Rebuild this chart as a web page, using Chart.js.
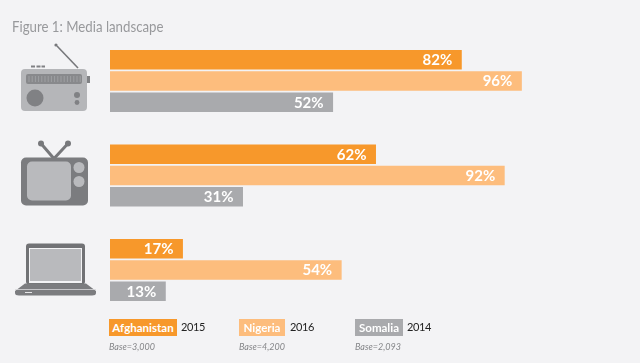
<!DOCTYPE html>
<html>
<head>
  <title>Figure 1: Media landscape</title>
  <script src="https://cdn.jsdelivr.net/npm/chart.js"></script>
  <style>
    html, body { margin: 0; padding: 0; background: #f3f3f5; }
    #wrap { position: relative; width: 640px; height: 363px; overflow: hidden; font-family: Lato, sans-serif; }
    #mediaChart { position: absolute; left: 0; top: 0; }
    .title { position: absolute; left: 12px; top: 17px; font-size: 15px; color: #98999c; white-space: nowrap; transform: scaleX(0.883); transform-origin: left top; }
    .key { position: absolute; top: 319px; height: 17px; line-height: 17px; text-align: center; color: #fff; font-size: 11.5px; font-weight: 700; white-space: nowrap; }
    .year { position: absolute; top: 318px; height: 17px; line-height: 17px; color: #222; font-size: 11px; letter-spacing: -0.4px; white-space: nowrap; }
    .base { position: absolute; top: 341px; font-size: 9px; line-height: 12px; font-style: italic; color: #858689; white-space: nowrap; }
  </style>
</head>
<body>
  <div id="wrap">
    <canvas id="mediaChart" width="640" height="363"></canvas>
    <div class="title">Figure 1: Media landscape</div>
    <div id="legend"></div>
  </div>
  <script>
    const categories = ["Radio", "TV", "Laptop"];
    const countries = ["Afghanistan", "Nigeria", "Somalia"];
    const years = ["2015", "2016", "2014"];
    const bases = ["Base=3,000", "Base=4,200", "Base=2,093"];
    const afghanistan = [82, 62, 17];
    const nigeria = [96, 92, 54];
    const somalia = [52, 31, 13];
    const colors = ["#f7982b", "#fdbd7d", "#a9aaad"];

    // legend sits under the chart, same look as the original figure
    const legendX = [[109, 68, 181], [239, 46, 290], [355, 48, 407]];
    const legend = document.getElementById("legend");
    countries.forEach((name, i) => {
      const [x, w, yx] = legendX[i];
      legend.innerHTML +=
        `<div class="key" style="left:${x}px;width:${w}px;background:${colors[i]}">${name}</div>` +
        `<div class="year" style="left:${yx}px">${years[i]}</div>` +
        `<div class="base" style="left:${x}px">${bases[i]}</div>`;
    });

    function rr(ctx, x, y, w, h, r, fill) {
      ctx.fillStyle = fill;
      ctx.beginPath();
      ctx.roundRect(x, y, w, h, r);
      ctx.fill();
    }
    function dot(ctx, x, y, r, fill) {
      ctx.fillStyle = fill;
      ctx.beginPath();
      ctx.arc(x, y, r, 0, Math.PI * 2);
      ctx.fill();
    }
    function stick(ctx, x1, y1, x2, y2, w, col) {
      ctx.strokeStyle = col;
      ctx.lineWidth = w;
      ctx.beginPath();
      ctx.moveTo(x1, y1);
      ctx.lineTo(x2, y2);
      ctx.stroke();
    }

    // icons are drawn relative to the middle of each category band
    const icons = {
      Radio(ctx, c) {
        stick(ctx, 78, c - 13, 57, c - 35, 1.6, "#77787b");
        dot(ctx, 56, c - 36, 1.6, "#77787b");
        rr(ctx, 31, c - 15.5, 4, 2, 0, "#808184");
        rr(ctx, 36.5, c - 15.5, 4, 2, 0, "#808184");
        rr(ctx, 41.5, c - 15.5, 3.5, 2, 0, "#808184");
        rr(ctx, 87, c - 5, 3, 7, 0, "#808184");
        rr(ctx, 21, c - 12, 66, 42, 4, "#b5b6b9");
        rr(ctx, 26, c - 7, 56, 10, 2, "#88898c");
        for (let x = 29; x < 81; x += 3.2) stick(ctx, x, c - 5, x, c + 1, 0.5, "#b5b6b9");
        dot(ctx, 35, c + 17, 8.5, "#808184");
        dot(ctx, 77, c + 14, 3, "#808184");
        dot(ctx, 77, c + 21.5, 2.4, "#808184");
      },
      TV(ctx, c) {
        ctx.lineCap = "round";
        stick(ctx, 53, c - 18, 41, c - 32, 3, "#77787b");
        stick(ctx, 55, c - 18, 68, c - 32, 3, "#77787b");
        ctx.lineCap = "butt";
        dot(ctx, 41, c - 32, 3, "#77787b");
        dot(ctx, 68, c - 32, 3, "#77787b");
        rr(ctx, 21, c - 18, 67, 48, 5, "#7b7c7f");
        rr(ctx, 27, c - 14, 44, 39, 5, "#b9babd");
        dot(ctx, 79, c - 8, 5.5, "#b9babd");
        dot(ctx, 79, c + 6, 5.5, "#b9babd");
      },
      Laptop(ctx, c) {
        rr(ctx, 26, c - 26.5, 59, 41, 3, "#717275");
        ctx.fillStyle = "#f3f3f5";
        ctx.fillRect(29, c - 22, 53, 35);
        ctx.fillStyle = "#b9babd";
        ctx.fillRect(30, c - 21, 51, 32);
        ctx.fillStyle = "#7b7c7f";
        ctx.beginPath();
        ctx.moveTo(25, c + 13.5);
        ctx.lineTo(86, c + 13.5);
        ctx.lineTo(96, c + 21);
        ctx.lineTo(96, c + 23);
        ctx.quadraticCurveTo(96, c + 25.5, 92, c + 25.5);
        ctx.lineTo(19, c + 25.5);
        ctx.quadraticCurveTo(15, c + 25.5, 15, c + 23);
        ctx.lineTo(15, c + 21);
        ctx.closePath();
        ctx.fill();
        stick(ctx, 15, c + 19.5, 96, c + 19.5, 0.8, "#d8d8da");
        stick(ctx, 25, c + 22.5, 32, c + 22.5, 1, "#e6e6e8");
      }
    };

    const extras = {
      id: "extras",
      afterDatasetsDraw(chart) {
        const ctx = chart.ctx;
        ctx.save();
        ctx.font = "700 15px Lato, sans-serif";
        ctx.textAlign = "right";
        ctx.textBaseline = "middle";
        chart.data.datasets.forEach((ds, i) => {
          chart.getDatasetMeta(i).data.forEach((bar, j) => {
            ctx.fillStyle = "#fff";
            ctx.fillText(ds.data[j] + "%", bar.x - 9.5, bar.y + 0.5);
          });
        });
        categories.forEach((name, j) => {
          icons[name](ctx, chart.scales.y.getPixelForValue(j));
        });
        ctx.restore();
      }
    };

    new Chart(document.getElementById("mediaChart").getContext("2d"), {
      type: "bar",
      data: {
        labels: categories,
        datasets: [
          { label: countries[0], data: afghanistan, backgroundColor: colors[0] },
          { label: countries[1], data: nigeria, backgroundColor: colors[1] },
          { label: countries[2], data: somalia, backgroundColor: colors[2] }
        ]
      },
      options: {
        indexAxis: "y",
        responsive: false,
        animation: false,
        categoryPercentage: 0.676,
        barPercentage: 0.915,
        layout: { padding: { left: 110, right: 101, top: 33.75, bottom: 45.75 } },
        scales: {
          x: { display: false, min: 0, max: 100 },
          y: { display: false }
        },
        plugins: { legend: { display: false }, tooltip: { enabled: false } }
      },
      plugins: [extras]
    });
  </script>
</body>
</html>
